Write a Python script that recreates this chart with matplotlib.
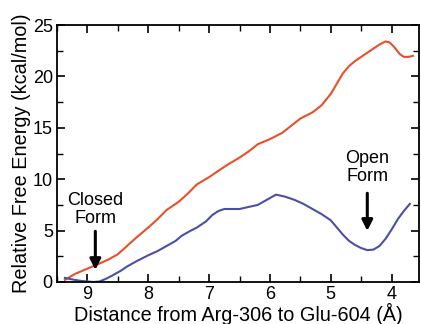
import matplotlib
matplotlib.use("Agg")
import matplotlib.pyplot as plt
from matplotlib.ticker import MultipleLocator

plt.rcParams['font.family'] = ['Liberation Sans', 'DejaVu Sans']

# distance (A) and free energy (kcal/mol)
dist_red = [9.37, 9.2, 9.0, 8.8, 8.65, 8.5, 8.35, 8.2, 8.0, 7.85, 7.7, 7.5, 7.35, 7.2, 7.0,
            6.85, 6.7, 6.5, 6.35, 6.2, 6.0, 5.8, 5.65, 5.5, 5.3, 5.15, 5.0, 4.9, 4.8, 4.7,
            4.6, 4.4, 4.2, 4.1, 4.03, 3.95, 3.87, 3.8, 3.72, 3.65]
energy_red = [0.2, 0.8, 1.3, 1.8, 2.2, 2.7, 3.5, 4.3, 5.3, 6.1, 7.0, 7.8, 8.6, 9.5, 10.2,
              10.8, 11.4, 12.1, 12.7, 13.4, 13.9, 14.5, 15.2, 15.9, 16.5, 17.2, 18.3, 19.3, 20.3, 21.0,
              21.5, 22.3, 23.1, 23.4, 23.3, 22.8, 22.2, 21.9, 21.9, 22.0]

dist_blue = [9.37, 9.25, 9.1, 9.0, 8.9, 8.8, 8.7, 8.6, 8.45, 8.35, 8.2, 8.0, 7.85, 7.7, 7.55,
             7.45, 7.3, 7.2, 7.05, 6.95, 6.85, 6.75, 6.6, 6.5, 6.35, 6.2, 6.05, 5.9, 5.75,
             5.6, 5.45, 5.3, 5.15, 5.0, 4.9, 4.8, 4.7, 4.6, 4.5, 4.4, 4.3, 4.2, 4.1, 4.0,
             3.9, 3.8, 3.7]
energy_blue = [0.4, 0.25, 0.1, 0.05, 0.0, 0.05, 0.3, 0.6, 1.1, 1.5, 2.0, 2.6, 3.0, 3.5, 4.0,
               4.5, 5.0, 5.3, 5.9, 6.5, 6.9, 7.1, 7.1, 7.1, 7.3, 7.5, 8.0, 8.5, 8.3,
               8.0, 7.6, 7.1, 6.6, 6.0, 5.3, 4.6, 4.0, 3.6, 3.3, 3.1, 3.15, 3.5, 4.2, 5.1,
               6.1, 6.9, 7.6]

fig = plt.figure(figsize=(4.21, 3.24), dpi=100)
ax = fig.add_axes([57/421, 1 - 282/324, (419 - 57)/421, (282 - 25)/324])

ax.plot(dist_red, energy_red, color='#e8502a', lw=1.5)
ax.plot(dist_blue, energy_blue, color='#4a4fa8', lw=1.5)

ax.set_xlim(9.5, 3.55)
ax.set_ylim(0, 25)
ax.xaxis.set_major_locator(MultipleLocator(1))
ax.xaxis.set_minor_locator(MultipleLocator(0.5))
ax.yaxis.set_major_locator(MultipleLocator(5))
ax.yaxis.set_minor_locator(MultipleLocator(2.5))
ax.tick_params(which='both', direction='in', top=True, right=True, labelsize=13, pad=3)
ax.tick_params(which='major', length=6, width=1.2)
ax.tick_params(which='minor', length=4, width=1.0)
for s in ax.spines.values():
    s.set_linewidth(1.3)

ax.set_xlabel('Distance from Arg-306 to Glu-604 (Å)', fontsize=14.3, labelpad=0)
ax.set_ylabel('Relative Free Energy (kcal/mol)', fontsize=14.3, labelpad=1)

ax.annotate('', xy=(8.87, 0.9), xytext=(8.87, 5.2),
            arrowprops=dict(arrowstyle='-|>', color='black', lw=2.2, mutation_scale=16))
ax.text(8.87, 7.05, 'Closed\nForm', ha='center', va='center', fontsize=13, linespacing=1.05)
ax.annotate('', xy=(4.4, 4.7), xytext=(4.4, 8.9),
            arrowprops=dict(arrowstyle='-|>', color='black', lw=2.2, mutation_scale=16))
ax.text(4.4, 11.15, 'Open\nForm', ha='center', va='center', fontsize=13, linespacing=1.05)

fig.savefig('out.png', dpi=100)
